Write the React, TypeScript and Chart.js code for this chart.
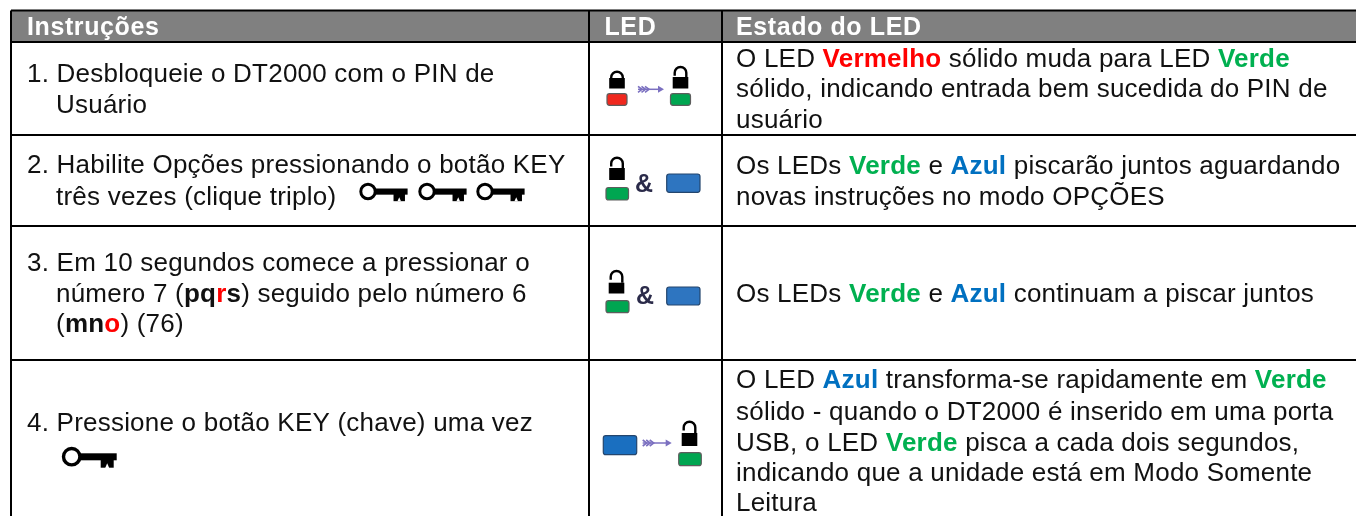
import React, { useEffect, useRef } from "react";
import { Chart, registerables } from "chart.js";

Chart.register(...registerables);

// ---- table content (markup: {r:..} red bold, {g:..} green bold, {a:..} blue bold, {k:..} black bold)
const headers = ["Instruções", "LED", "Estado do LED"];
const instructionLines = [
  ["1. Desbloqueie o DT2000 com o PIN de", "Usuário"],
  ["2. Habilite Opções pressionando o botão KEY", "três vezes (clique triplo)"],
  ["3. Em 10 segundos comece a pressionar o", "número 7 ({k:pq}{r:r}{k:s}) seguido pelo número 6", "({k:mn}{r:o}) (76)"],
  ["4. Pressione o botão KEY (chave) uma vez"],
];
const stateLines = [
  ["O LED {r:Vermelho} sólido muda para LED {g:Verde}", "sólido, indicando entrada bem sucedida do PIN de", "usuário"],
  ["Os LEDs {g:Verde} e {a:Azul} piscarão juntos aguardando", "novas instruções no modo OPÇÕES"],
  ["Os LEDs {g:Verde} e {a:Azul} continuam a piscar juntos"],
  ["O LED {a:Azul} transforma-se rapidamente em {g:Verde}", "sólido - quando o DT2000 é inserido em uma porta", "USB, o LED {g:Verde} pisca a cada dois segundos,", "indicando que a unidade está em Modo Somente", "Leitura"],
];

// ---- layout in scale units (the hidden axes run 0..1356 and 0..516, in page pixels)
const columnRules = [11, 589, 722];
const rowRules = [10.5, 42, 135, 226, 360];
const tableRight = 1356;
const tableBottom = 516;
const headerBaseline = 34.5;
const headerX = [27, 604.5, 736];
const leftX = 27;
const leftHang = 56;
const rightX = 736;
const leftBaselines = [[82, 113], [172.5, 205], [271, 302, 332], [431]];
const rightBaselines = [[67, 97, 127.5], [173.5, 205], [302], [388, 419.5, 450.5, 481, 511]];
const FONT_SIZE = 26;
const HEADER_SIZE = 25;
const FONT = "'Liberation Sans', Arial, sans-serif";
const INK: Record<string, string> = { r: "#ff0000", g: "#00b050", a: "#0070c0", k: "#111111" };

const keyRings = [[368, 191.5, 0.88], [427, 191.5, 0.88], [485, 191.5, 0.88], [71.7, 456.7, 1]];
const locks = [
  [617, 78, 88.5, 70.7, 0], [680.5, 77, 88.5, 66, 1],
  [617, 168, 180, 156.7, 1], [616.5, 282.7, 293.5, 270, 1], [689.5, 433, 446, 420.7, 1],
];
const leds = [
  [607, 93.7, 20, 11.6, "#f0281e"], [670.5, 93.7, 20, 11.6, "#00a651"],
  [606, 187.5, 22.5, 12.5, "#00a651"], [606, 300.7, 23, 12, "#00a651"], [678.7, 452.7, 22.6, 13, "#00a651"],
];
const blues = [[666.7, 174, 33.3, 18.3, "#2e75c0"], [666.7, 287, 33.3, 18, "#2e75c0"], [603.3, 435.7, 33.4, 19, "#1a6fc0"]];
const arrows = [[638, 664, 89.3], [642.7, 671.7, 443]];
const ampersands = [[644, 192], [645, 304]];

function parseRuns(line: string) {
  const runs: { text: string; style: string }[] = [];
  const re = /\{([rgak]):([^}]*)\}/g;
  let last = 0;
  let m: RegExpExecArray | null;
  while ((m = re.exec(line))) {
    if (m.index > last) runs.push({ text: line.slice(last, m.index), style: "" });
    runs.push({ text: m[2], style: m[1] });
    last = m.index + m[0].length;
  }
  if (last < line.length) runs.push({ text: line.slice(last), style: "" });
  return runs;
}

const tablePlugin = {
  id: "table",
  beforeDatasetsDraw(chart: any) {
    const { ctx, scales } = chart;
    const X = (v: number) => scales.x.getPixelForValue(v);
    const Y = (v: number) => scales.y.getPixelForValue(v);
    ctx.save();
    ctx.fillStyle = "#808080";
    ctx.fillRect(X(columnRules[0]), Y(rowRules[0]), X(tableRight) - X(columnRules[0]), Y(rowRules[1]) - Y(rowRules[0]));
    ctx.restore();
  },
  afterDatasetsDraw(chart: any) {
    const { ctx, scales } = chart;
    const X = (v: number) => scales.x.getPixelForValue(v);
    const Y = (v: number) => scales.y.getPixelForValue(v);
    ctx.save();
    ctx.textBaseline = "alphabetic";
    ctx.textAlign = "left";

    ctx.font = `bold ${HEADER_SIZE}px ${FONT}`;
    ctx.letterSpacing = "0.6px";
    ctx.fillStyle = "#ffffff";
    headers.forEach((h, i) => ctx.fillText(h, X(headerX[i]), Y(headerBaseline)));

    ctx.letterSpacing = "0.22px";
    const drawLine = (line: string, x: number, y: number) => {
      let px = X(x);
      parseRuns(line).forEach((run) => {
        ctx.font = `${run.style ? "bold " : ""}${FONT_SIZE}px ${FONT}`;
        ctx.fillStyle = run.style ? INK[run.style] : "#111111";
        ctx.fillText(run.text, px, Y(y));
        px += ctx.measureText(run.text).width;
      });
    };
    instructionLines.forEach((lines, r) =>
      lines.forEach((line, i) => drawLine(line, i === 0 ? leftX : leftHang, leftBaselines[r][i]))
    );
    stateLines.forEach((lines, r) =>
      lines.forEach((line, i) => drawLine(line, rightX, rightBaselines[r][i]))
    );
    ctx.letterSpacing = "0px";

    // keys
    keyRings.forEach(([cx, cy, s]) => {
      ctx.strokeStyle = "#000";
      ctx.fillStyle = "#000";
      ctx.lineWidth = 3.4 * s;
      ctx.beginPath();
      ctx.arc(X(cx), Y(cy), 8.2 * s, 0, Math.PI * 2);
      ctx.stroke();
      ctx.fillRect(X(cx) + 9 * s, Y(cy) - 3.4 * s, 36 * s, 7 * s);
      ctx.fillRect(X(cx) + 29 * s, Y(cy), 13 * s, 11 * s);
      ctx.fillStyle = "#fff";
      ctx.beginPath();
      ctx.moveTo(X(cx) + 33.5 * s, Y(cy) + 11.2 * s);
      ctx.lineTo(X(cx) + 35.5 * s, Y(cy) + 6.5 * s);
      ctx.lineTo(X(cx) + 37.5 * s, Y(cy) + 11.2 * s);
      ctx.fill();
    });

    // padlocks
    locks.forEach(([cx, top, bottom, archTop, open]) => {
      const halfBody = 7.8;
      ctx.fillStyle = "#000";
      ctx.fillRect(X(cx) - halfBody, Y(top), halfBody * 2, Y(bottom) - Y(top));
      ctx.strokeStyle = "#000";
      ctx.lineWidth = 2.4;
      const r = 5.8;
      const ay = Y(archTop) + r + 1;
      ctx.beginPath();
      ctx.moveTo(X(cx) + r, Y(top));
      ctx.lineTo(X(cx) + r, ay);
      ctx.arc(X(cx), ay, r, 0, Math.PI, true);
      ctx.lineTo(X(cx) - r, open ? ay + 3 : Y(top));
      ctx.stroke();
    });

    // LED lamps
    const lamp = (x: number, y: number, w: number, h: number, color: any, edge: string) => {
      ctx.fillStyle = color;
      ctx.strokeStyle = edge;
      ctx.lineWidth = 1.2;
      ctx.beginPath();
      ctx.roundRect(X(x), Y(y), w, h, 2.5);
      ctx.fill();
      ctx.stroke();
    };
    leds.forEach(([x, y, w, h, c]) => lamp(x as number, y as number, w as number, h as number, c, "#5d5d5d"));
    blues.forEach(([x, y, w, h, c]) => lamp(x as number, y as number, w as number, h as number, c, "#24466e"));

    // arrows
    arrows.forEach(([x0, x1, y]) => {
      ctx.strokeStyle = "#7b70c0";
      ctx.fillStyle = "#7b70c0";
      ctx.lineWidth = 1.5;
      ctx.beginPath();
      ctx.moveTo(X(x0), Y(y));
      ctx.lineTo(X(x1) - 3, Y(y));
      ctx.stroke();
      ctx.beginPath();
      ctx.moveTo(X(x1), Y(y));
      ctx.lineTo(X(x1) - 6, Y(y) - 3.5);
      ctx.lineTo(X(x1) - 6, Y(y) + 3.5);
      ctx.fill();
      ctx.lineWidth = 1.6;
      [0, 3.5, 7].forEach((d) => {
        ctx.beginPath();
        ctx.moveTo(X(x0) + d, Y(y) - 3);
        ctx.lineTo(X(x0) + d + 4, Y(y));
        ctx.lineTo(X(x0) + d, Y(y) + 3);
        ctx.stroke();
      });
    });

    // ampersands
    ctx.font = `bold 25px ${FONT}`;
    ctx.fillStyle = "#2b2b4a";
    ctx.textAlign = "center";
    ampersands.forEach(([x, y]) => ctx.fillText("&", X(x), Y(y)));
    ctx.restore();
  },
};

const ruleDatasets = [
  ...rowRules.map((y) => ({ points: [{ x: columnRules[0], y }, { x: tableRight, y }] })),
  ...columnRules.map((x) => ({ points: [{ x, y: rowRules[0] }, { x, y: tableBottom }] })),
];

export default function App() {
  const ref = useRef<HTMLCanvasElement | null>(null);
  useEffect(() => {
    if (!ref.current) return;
    const chart = new Chart(ref.current, {
      type: "scatter",
      data: {
        datasets: ruleDatasets.map((d) => ({
          data: d.points,
          showLine: true,
          borderColor: "#000000",
          borderWidth: 2,
          pointRadius: 0,
          clip: false,
        })),
      },
      options: {
        animation: false,
        responsive: false,
        events: [],
        layout: { padding: 0 },
        plugins: { legend: { display: false }, tooltip: { enabled: false } },
        scales: {
          x: { type: "linear", min: 0, max: tableRight, display: false },
          y: { type: "linear", min: 0, max: tableBottom, reverse: true, display: false },
        },
      },
      plugins: [tablePlugin],
    } as any);
    return () => chart.destroy();
  }, []);
  return (
    <canvas
      ref={ref}
      width={1356}
      height={516}
      style={{ position: "fixed", left: 0, top: 0, width: 1356, height: 516, display: "block", background: "#fff" }}
    />
  );
}
